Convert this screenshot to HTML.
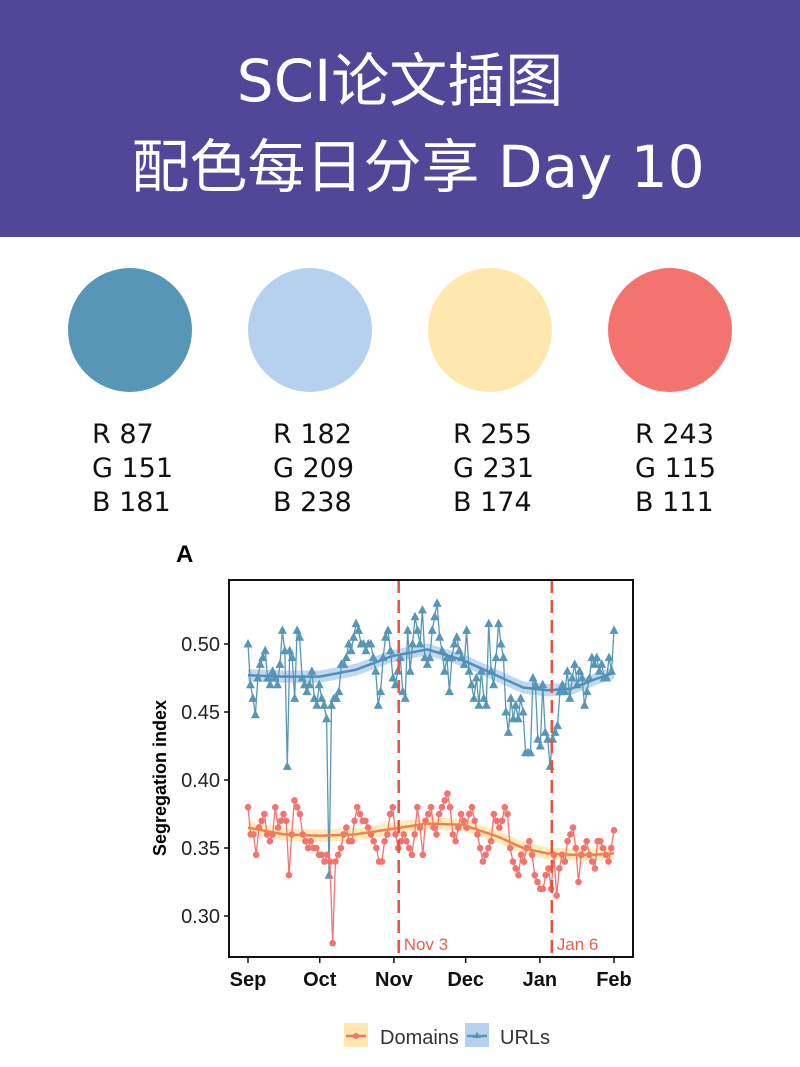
<!DOCTYPE html>
<html><head><meta charset="utf-8"><style>
body{margin:0;width:800px;height:1067px;background:#fff;overflow:hidden;font-family:"Liberation Sans","Noto Sans CJK SC",sans-serif}
.hdr{position:absolute;left:0;top:0;width:800px;height:237px;background:#524699}
.t{position:absolute;left:0;width:800px;text-align:center;color:#fff;font-family:"DejaVu Sans","Noto Sans CJK SC",sans-serif;font-size:58px;line-height:1}
.c{position:absolute;width:124px;height:124px;border-radius:50%;top:268px}
.rgb{position:absolute;top:418px;font-family:"DejaVu Sans",sans-serif;font-size:27px;line-height:34px;color:#111}
</style></head><body>
<div class="hdr">
<div class="t" style="top:52px">SCI论文插图</div>
<div class="t" style="top:138px;left:18px">配色每日分享 Day 10</div>
</div>
<div class="c" style="left:68px;background:rgb(87,151,181)"></div>
<div class="c" style="left:248px;background:rgb(182,209,238)"></div>
<div class="c" style="left:428px;background:rgb(255,231,174)"></div>
<div class="c" style="left:608px;background:rgb(243,115,111)"></div>
<div class="rgb" style="left:92px">R 87<br>G 151<br>B 181</div>
<div class="rgb" style="left:273px">R 182<br>G 209<br>B 238</div>
<div class="rgb" style="left:453px">R 255<br>G 231<br>B 174</div>
<div class="rgb" style="left:635px">R 243<br>G 115<br>B 111</div>
<svg id="ch" width="800" height="1067" style="position:absolute;left:0;top:0"></svg>
<script>
const urls=[0.50,0.47,0.46,0.448,0.475,0.485,0.49,0.495,0.475,0.47,0.48,0.475,0.47,0.485,0.51,0.495,0.41,0.495,0.49,0.46,0.51,0.505,0.475,0.47,0.465,0.47,0.48,0.46,0.455,0.47,0.46,0.455,0.445,0.33,0.455,0.46,0.46,0.465,0.485,0.485,0.49,0.50,0.495,0.505,0.515,0.51,0.50,0.50,0.495,0.50,0.50,0.49,0.48,0.455,0.465,0.49,0.505,0.51,0.495,0.475,0.47,0.48,0.49,0.465,0.46,0.51,0.48,0.50,0.52,0.51,0.50,0.525,0.49,0.485,0.49,0.51,0.52,0.53,0.505,0.495,0.48,0.49,0.465,0.49,0.50,0.505,0.495,0.49,0.485,0.51,0.48,0.47,0.46,0.475,0.455,0.48,0.46,0.455,0.515,0.48,0.47,0.49,0.515,0.50,0.49,0.45,0.435,0.46,0.445,0.455,0.445,0.46,0.45,0.42,0.42,0.42,0.475,0.47,0.43,0.425,0.47,0.435,0.43,0.41,0.43,0.435,0.44,0.465,0.47,0.465,0.48,0.46,0.475,0.485,0.47,0.48,0.475,0.455,0.465,0.475,0.49,0.485,0.49,0.48,0.485,0.475,0.475,0.49,0.48,0.51];
const domains=[0.38,0.36,0.36,0.345,0.365,0.37,0.375,0.36,0.355,0.36,0.38,0.365,0.37,0.375,0.37,0.33,0.36,0.385,0.38,0.375,0.36,0.355,0.35,0.355,0.35,0.35,0.345,0.345,0.34,0.345,0.34,0.28,0.34,0.345,0.35,0.36,0.365,0.355,0.355,0.37,0.38,0.375,0.37,0.37,0.365,0.36,0.355,0.35,0.34,0.34,0.355,0.36,0.375,0.38,0.36,0.35,0.355,0.36,0.355,0.35,0.345,0.36,0.38,0.365,0.345,0.37,0.375,0.38,0.365,0.36,0.375,0.38,0.385,0.39,0.38,0.36,0.355,0.365,0.375,0.37,0.365,0.375,0.38,0.37,0.36,0.35,0.34,0.345,0.35,0.355,0.375,0.37,0.365,0.37,0.38,0.375,0.35,0.34,0.335,0.33,0.345,0.34,0.35,0.355,0.345,0.33,0.325,0.32,0.32,0.33,0.335,0.32,0.345,0.315,0.335,0.345,0.34,0.355,0.36,0.365,0.35,0.325,0.345,0.35,0.355,0.345,0.34,0.335,0.355,0.355,0.35,0.345,0.34,0.35,0.363];
const smoothDays=[0,15,30,45,60,75,90,105,115,125,135,145,153];
const urlSmooth=[0.477,0.476,0.476,0.481,0.491,0.496,0.488,0.476,0.468,0.466,0.467,0.474,0.479];
const domSmooth=[0.365,0.360,0.359,0.360,0.364,0.368,0.367,0.358,0.350,0.346,0.345,0.345,0.346];
const yTicks=[0.30,0.35,0.40,0.45,0.50];
const monthLabels=["Sep","Oct","Nov","Dec","Jan","Feb"];
const monthDays=[0,30,61,91,122,153];
const events=[{day:63,label:"Nov 3"},{day:127,label:"Jan 6"}];
const NS="http://www.w3.org/2000/svg",svg=document.getElementById('ch');
const X=d=>248+d*(614-248)/153, Y=v=>644+(0.50-v)*(916-644)/0.20;
function mk(t,a,p){const e=document.createElementNS(NS,t);for(const k in a)e.setAttribute(k,a[k]);(p||svg).appendChild(e);return e;}
const L=229,R=633,T=580,B=957;
const txtA=mk('text',{x:176,y:562,'font-size':24,'font-weight':'bold','font-family':'Liberation Sans'});txtA.textContent='A';


function smoothPath(days,vals,off){return days.map((d,i)=>(i?'L':'M')+X(d)+','+Y(vals[i]+off)).join('');}
function band(days,vals,w,fill,name){
  const up=days.map((d,i)=>X(d)+','+Y(vals[i]+w));const dn=days.map((d,i)=>X(d)+','+Y(vals[i]-w)).reverse();
  const p=mk('polygon',{points:up.concat(dn).join(' '),fill:fill,opacity:0.85});
  
  
}
function series(vals,col,shape,name){
  const n=vals.length,dx=153/(n-1);
  const pl=mk('polyline',{points:vals.map((v,i)=>X(i*dx)+','+Y(v)).join(' '),fill:'none',stroke:col,'stroke-width':1.3});
  
  
  vals.forEach((v,i)=>{const x=X(i*dx),y=Y(v);let m;
    if(shape==='tri')m=mk('polygon',{points:`${x},${y-5} ${x-4.5},${y+3.5} ${x+4.5},${y+3.5}`,fill:col});
    else m=mk('circle',{cx:x,cy:y,r:3.3,fill:col});
    
    });
}
band(smoothDays,urlSmooth,0.0045,'#b6d1ee','urls-ci-band');
band(smoothDays,domSmooth,0.0045,'#ffe7ae','domains-ci-band');
series(urls,'#5797b5','tri','urls');
series(domains,'#f3736f','dot','domains');
[[urlSmooth,'#4f8fb8','urls-smooth'],[domSmooth,'#f0804f','domains-smooth']].forEach(([v,c,n])=>{
  const p=mk('path',{d:smoothPath(smoothDays,v,0),fill:'none',stroke:c,'stroke-width':2.5});
  
  });
events.forEach(e=>{const x=X(e.day);
  const l=mk('line',{x1:x,x2:x,y1:T,y2:B,stroke:'#e8503a','stroke-width':2.5,'stroke-dasharray':'13,7'});
  
  
  const t=mk('text',{x:x+5,y:950,'font-size':17,fill:'#e8604a','font-family':'Liberation Sans'});t.textContent=e.label;
  
  });
const fr=mk('rect',{x:L,y:T,width:R-L,height:B-T,fill:'none',stroke:'#111','stroke-width':2});


yTicks.forEach(v=>{const y=Y(v);mk('line',{x1:L-5,x2:L,y1:y,y2:y,stroke:'#111','stroke-width':1.5});
  const t=mk('text',{x:L-9,y:y+7,'font-size':20,'text-anchor':'end',fill:'#222','font-family':'Liberation Sans'});t.textContent=v.toFixed(2);
  
  });
monthDays.forEach((d,i)=>{const x=X(d);mk('line',{x1:x,x2:x,y1:B,y2:B+6,stroke:'#111','stroke-width':1.5});
  const t=mk('text',{x:x,y:B+29,'font-size':20,'font-weight':'bold','text-anchor':'middle',fill:'#111','font-family':'Liberation Sans'});t.textContent=monthLabels[i];
  
  });
const yt=mk('text',{x:0,y:0,'font-size':18,'font-weight':'bold','text-anchor':'middle',transform:'translate(166,778) rotate(-90)','font-family':'Liberation Sans'});yt.textContent='Segregation index';


// legend
const lg=mk('g',{});


mk('rect',{x:344,y:1023,width:24,height:24,fill:'#ffe7ae'},lg);
mk('line',{x1:346,x2:366,y1:1036,y2:1036,stroke:'#f3736f','stroke-width':2.5},lg);
mk('circle',{cx:356,cy:1036,r:3,fill:'#f3736f'},lg);
const t1=mk('text',{x:380,y:1044,'font-size':20,fill:'#333','font-family':'Liberation Sans'},lg);t1.textContent='Domains';
mk('rect',{x:465,y:1023,width:24,height:24,fill:'#b6d1ee'},lg);
mk('line',{x1:467,x2:487,y1:1036,y2:1036,stroke:'#5797b5','stroke-width':2.5},lg);
mk('polygon',{points:'477,1032 473,1038 481,1038',fill:'#5797b5'},lg);
const t2=mk('text',{x:500,y:1044,'font-size':20,fill:'#333','font-family':'Liberation Sans'},lg);t2.textContent='URLs';
</script>
</body></html>
